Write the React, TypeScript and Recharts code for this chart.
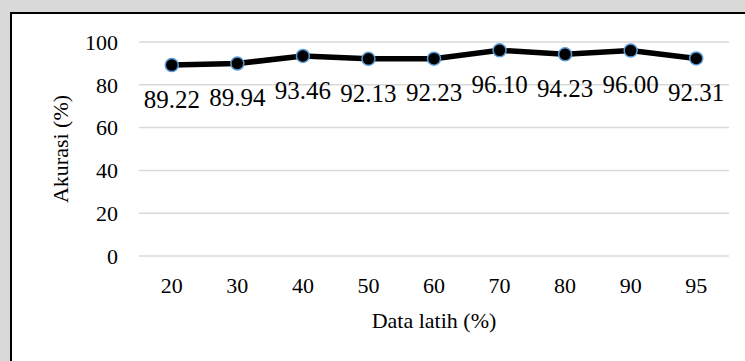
import { LineChart, Line, XAxis, YAxis, CartesianGrid, LabelList, Label } from "recharts";

const dataLatih = ["20", "30", "40", "50", "60", "70", "80", "90", "95"];
const akurasi = [89.22, 89.94, 93.46, 92.13, 92.23, 96.1, 94.23, 96.0, 92.31];
const yTicks = [0, 20, 40, 60, 80, 100];

const data = dataLatih.map((d, i) => ({ latih: d, akurasi: akurasi[i] }));

const FONT = "'Liberation Serif', 'Times New Roman', serif";

export default function App() {
  return (
    <div
      style={{
        position: "absolute",
        left: 0,
        top: 0,
        width: 745,
        height: 361,
        overflow: "hidden",
        background: "#d9d9d9",
        fontFamily: FONT,
      }}
    >
      <style>{`svg text, svg tspan { font-family: ${FONT} !important; }`}</style>
      <div
        style={{
          position: "absolute",
          left: 10,
          top: 12,
          width: 760,
          height: 400,
          borderLeft: "2px solid #000",
          borderTop: "2px solid #000",
          background: "#fff",
        }}
      />
      <div style={{ position: "absolute", left: 0, top: 0 }}>
        <LineChart
          width={745}
          height={361}
          data={data}
          margin={{ top: 42, right: 16, left: 49, bottom: 0 }}
        >
          <CartesianGrid vertical={false} stroke="#d9d9d9" strokeWidth={1.5} />
          <XAxis
            dataKey="latih"
            scale="band"
            height={105}
            axisLine={false}
            tickLine={false}
            tickSize={0}
            tickMargin={21}
            tick={{ fontSize: 22, fill: "#000", fontFamily: FONT }}
          >
            <Label
              value="Data latih (%)"
              position="insideBottom"
              offset={33}
              style={{ fontSize: 22, fill: "#000", fontFamily: FONT }}
            />
          </XAxis>
          <YAxis
            width={90}
            domain={[0, 100]}
            ticks={yTicks}
            axisLine={false}
            tickLine={false}
            tickSize={0}
            tickMargin={21}
            tick={{ fontSize: 22, fill: "#000", fontFamily: FONT }}
          >
            <Label
              content={({ viewBox }: any) => {
                const cx = 68;
                const cy = viewBox.y + viewBox.height / 2;
                return (
                  <text
                    x={cx}
                    y={cy}
                    transform={`rotate(-90 ${cx} ${cy})`}
                    textAnchor="middle"
                    fontSize={22}
                    fill="#000"
                    fontFamily={FONT}
                  >
                    Akurasi (%)
                  </text>
                );
              }}
            />
          </YAxis>
          <Line
            type="linear"
            dataKey="akurasi"
            stroke="#000"
            strokeWidth={5.5}
            dot={{ r: 6.5, fill: "#000", stroke: "#5b9bd5", strokeWidth: 1.5 }}
            activeDot={false}
            isAnimationActive={false}
          >
            <LabelList
              dataKey="akurasi"
              position="bottom"
              offset={25}
              formatter={(v: any) => Number(v).toFixed(2)}
              style={{ fontSize: 25, fill: "#000", fontFamily: FONT }}
            />
          </Line>
        </LineChart>
      </div>
    </div>
  );
}
